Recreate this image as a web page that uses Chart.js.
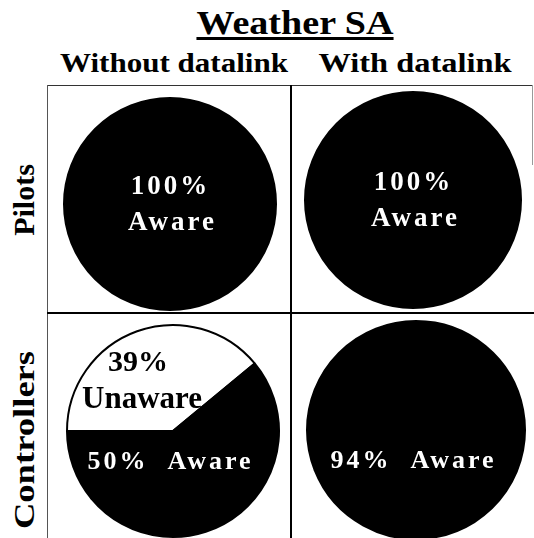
<!DOCTYPE html>
<html>
<head>
<meta charset="utf-8">
<script src="https://cdn.jsdelivr.net/npm/chart.js@4.4.0/dist/chart.umd.min.js"></script>
<style>
  body { margin: 0; background: #fff; }
  #wrap { position: relative; width: 534px; height: 538px; overflow: hidden; font-family: "Liberation Serif", "Times New Roman", serif; font-weight: bold; color: #000; }
  .txt { position: absolute; white-space: nowrap; line-height: 1; }
  .line { position: absolute; background: #000; }
  .cell { position: absolute; }
</style>
</head>
<body>
<div id="wrap">
  <div class="txt" id="title" style="left:295px; top:6px; font-size:34px; text-decoration:underline; text-decoration-thickness:3px; text-underline-offset:3px; transform:translateX(-50%) scaleX(1.12);"></div>
  <div class="txt col" style="left:174px; top:50px; font-size:27px; transform:translateX(-50%) scaleX(1.15);"></div>
  <div class="txt col" style="left:415px; top:50px; font-size:27px; transform:translateX(-50%) scaleX(1.2);"></div>
  <div class="txt row" style="left:24px; top:200px; font-size:30px; transform:translate(-50%,-50%) rotate(-90deg);"></div>
  <div class="txt row" style="left:24px; top:440px; font-size:30px; transform:translate(-50%,-50%) rotate(-90deg) scaleX(1.22);"></div>

  <div class="line" style="left:47px; top:85px; width:485px; height:1px; background:#333;"></div>
  <div class="line" style="left:47px; top:85px; width:1px; height:453px; background:#555;"></div>
  <div class="line" style="left:532px; top:85px; width:1px; height:80px; background:#999;"></div>
  <div class="line" style="left:290px; top:85px; width:2px; height:453px;"></div>
  <div class="line" style="left:47px; top:312px; width:487px; height:2px;"></div>

  <div class="cell" style="left:62px; top:96px; width:216px; height:216px;"><canvas id="c0"></canvas></div>
  <div class="cell" style="left:303px; top:90px; width:220px; height:220px;"><canvas id="c1"></canvas></div>
  <div class="cell" style="left:65px; top:323px; width:216px; height:216px;"><canvas id="c2"></canvas></div>
  <div class="cell" style="left:305px; top:319px; width:222px; height:222px;"><canvas id="c3"></canvas></div>
</div>
<script>
// Weather SA - % aware / unaware
const chartTitle = "Weather SA";
const conditions = ["Without datalink", "With datalink"];
const groups = ["Pilots", "Controllers"];
// order: Pilots without, Pilots with, Controllers without, Controllers with
const awarePct = [100, 100, 50, 94];
const unawarePct = [0, 0, 39, 0];

document.getElementById("title").textContent = chartTitle;
const cols = document.querySelectorAll(".col");
for (let i = 0; i < conditions.length; i++) cols[i].textContent = conditions[i];
const rows = document.querySelectorAll(".row");
for (let i = 0; i < groups.length; i++) rows[i].textContent = groups[i];

function drawText(ctx, txt, x, y, size, spacing, color) {
  ctx.font = "bold " + size + "px 'Liberation Serif', serif";
  ctx.letterSpacing = spacing + "px";
  ctx.fillStyle = color;
  ctx.textAlign = "center";
  ctx.textBaseline = "middle";
  ctx.fillText(txt, x + spacing / 2, y);
}

const labelPlugin = {
  id: "pieLabels",
  afterDatasetsDraw(chart) {
    const ctx = chart.ctx;
    const arc = chart.getDatasetMeta(0).data[0];
    const cx = arc.x, cy = arc.y;
    const aware = chart.data.datasets[0].data[1];
    const unaware = chart.data.datasets[0].data[0];
    ctx.save();
    if (aware === 100) {
      drawText(ctx, aware + "%", cx - 1, cy - 17, 27, 3, "#fff");
      drawText(ctx, "Aware", cx + 1, cy + 19, 27, 3, "#fff");
    } else {
      drawText(ctx, aware + "%  Aware", cx - 4, cy + 31, 26, 3, "#fff");
    }
    if (unaware > 0) {
      drawText(ctx, unaware + "%", cx - 35, cy - 68, 30, 0, "#000");
      drawText(ctx, "Unaware", cx - 31, cy - 31, 31, 0, "#000");
    }
    ctx.restore();
  }
};

for (let i = 0; i < awarePct.length; i++) {
  const other = 100 - awarePct[i] - unawarePct[i];
  new Chart(document.getElementById("c" + i), {
    type: "pie",
    data: {
      labels: ["Unaware", "Aware", "Other"],
      datasets: [{
        data: [unawarePct[i], awarePct[i], other],
        backgroundColor: ["#fff", "#000", "#000"],
        borderColor: "#000",
        borderWidth: 2
      }]
    },
    options: {
      responsive: true,
      maintainAspectRatio: true,
      aspectRatio: 1,
      animation: false,
      events: [],
      rotation: -90,
      layout: { padding: 1 },
      plugins: {
        legend: { display: false },
        tooltip: { enabled: false }
      }
    },
    plugins: [labelPlugin]
  });
}
</script>
</body>
</html>
